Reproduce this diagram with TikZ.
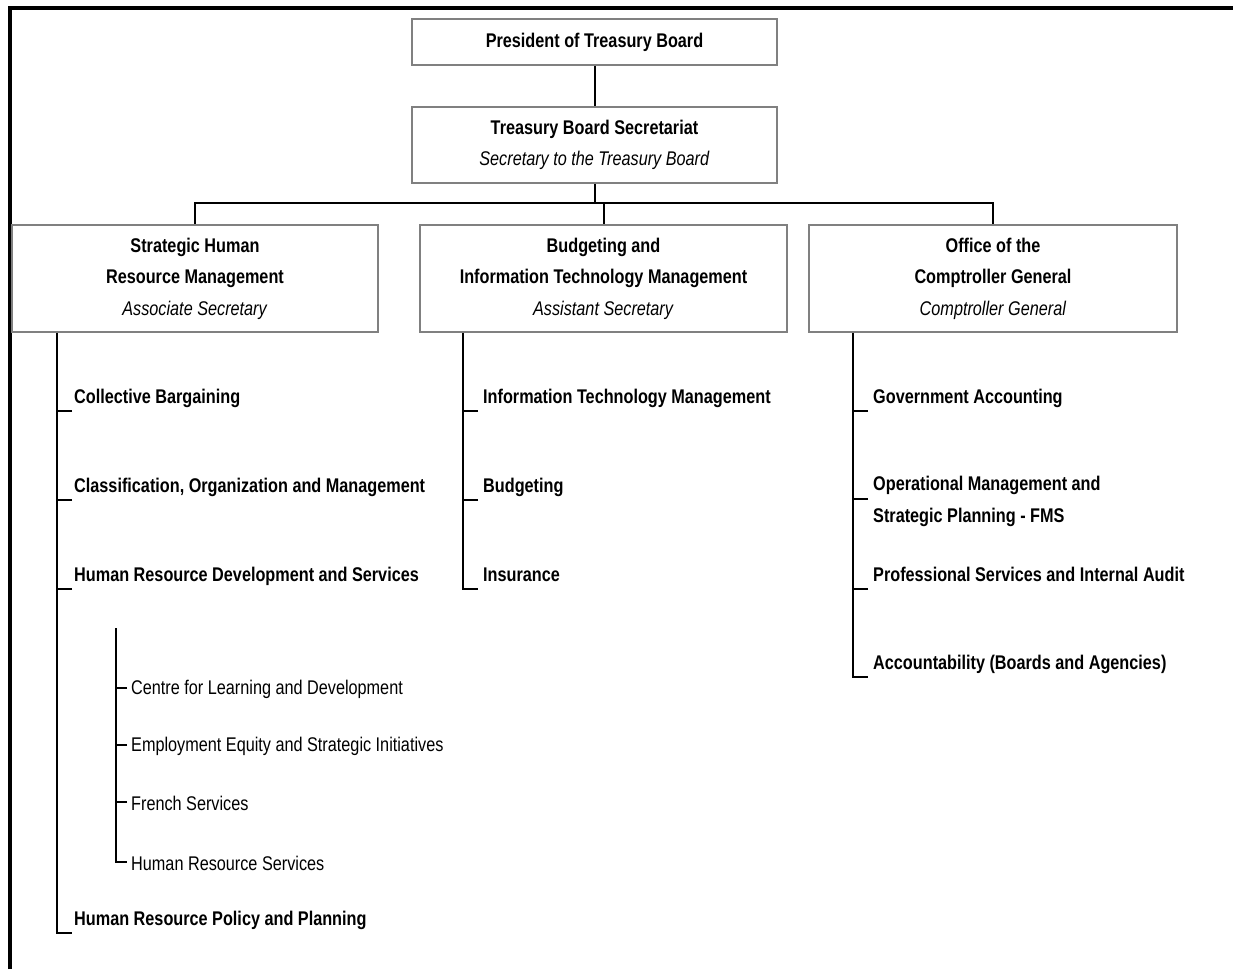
\documentclass[tikz,border=0pt]{standalone}
\usepackage{fontspec}
\setmainfont{Liberation Sans}[FakeStretch=0.82]

\begin{document}
\begin{tikzpicture}[x=1pt,y=-1pt,
  box/.style={draw=black!50, line width=1.8pt, align=center, inner sep=0pt,
    font=\fontsize{19.8}{31.5}\selectfont},
  item/.style={inner sep=0pt, align=left, font=\fontsize{19.8}{32}\selectfont\bfseries},
  sub/.style={inner sep=0pt, font=\fontsize{19.8}{24}\selectfont},
  link/.style={line width=2pt}]
\useasboundingbox (0,0) rectangle (1233,969);
\draw[line width=3.5pt] (10,969) -- (10,8) -- (1233,8);

% top of the chart
\node[box, minimum width=365pt, minimum height=46pt] (pres) at (594.5,42) {\textbf{President of Treasury Board}};
\node[box, minimum width=365pt, minimum height=76pt] (tbs) at (594.5,145)
  {\textbf{Treasury Board Secretariat}\\\textit{Secretary to the Treasury Board}};
\node[box, minimum width=366pt, minimum height=107pt] (shrm) at (195,278.5)
  {\textbf{Strategic Human}\\\textbf{Resource Management}\\\textit{Associate Secretary}};
\node[box, minimum width=367pt, minimum height=107pt] (bitm) at (603.5,278.5)
  {\textbf{Budgeting and}\\\textbf{Information Technology Management}\\\textit{Assistant Secretary}};
\node[box, minimum width=368pt, minimum height=107pt] (ocg) at (993,278.5)
  {\textbf{Office of the}\\\textbf{Comptroller General}\\\textit{Comptroller General}};

\coordinate (bus) at (594.5,203);
\draw[link] (pres) -- (tbs);
\draw[link] (tbs) -- (bus);
\draw[link] (bus) -| (shrm.north);
\draw[link] (bus) -| (bitm.north);
\draw[link] (bus) -| (ocg.north);

% human resources
\coordinate (hrx) at ([xshift=46pt]shrm.south west);
\foreach \y/\nm/\txt in {411/cb/Collective Bargaining, 500/com/{Classification, Organization and Management},
  589/hrd/Human Resource Development and Services, 933/hpp/Human Resource Policy and Planning} {
 \coordinate (\nm-t) at (72,\y);
 \node[item, anchor=base west] (\nm) at (74,\y-8) {\txt};
}
\draw[link] (hrx) |- (hpp-t);
\foreach \nm in {cb,com,hrd}
 \draw[link] (\nm-t) -- (hrx |- \nm-t);

\coordinate (hrdx) at (116,628);
\foreach \y/\nm/\txt in {688/cld/Centre for Learning and Development, 745/ee/Employment Equity and Strategic Initiatives,
  802/fs/French Services, 862/hrs/Human Resource Services} {
 \coordinate (\nm-t) at (127,\y);
 \node[sub, anchor=west] (\nm) at (131,\y+1.5) {\txt};
}
\draw[link] (hrdx) |- (hrs-t);
\foreach \nm in {cld,ee,fs}
 \draw[link] (\nm-t) -- (hrdx |- \nm-t);

% budgeting and IT
\coordinate (bitx) at ([xshift=44pt]bitm.south west);
\foreach \y/\nm/\txt in {411/itm/Information Technology Management, 500/bud/Budgeting, 589/ins/Insurance} {
 \coordinate (\nm-t) at (478,\y);
 \node[item, anchor=base west] (\nm) at (483,\y-8) {\txt};
}
\draw[link] (bitx) |- (ins-t);
\foreach \nm in {itm,bud}
 \draw[link] (\nm-t) -- (bitx |- \nm-t);

% comptroller general
\coordinate (ocgx) at ([xshift=45pt]ocg.south west);
\foreach \y/\nm/\txt in {411/ga/Government Accounting, 589/psia/Professional Services and Internal Audit,
  677/acc/{Accountability (Boards and Agencies)}} {
 \coordinate (\nm-t) at (868,\y);
 \node[item, anchor=base west] (\nm) at (873,\y-8) {\txt};
}
\coordinate (oms-t) at (868,499);
\node[item, anchor=west] (oms) at (873,501) {Operational Management and\\Strategic Planning - FMS};
\draw[link] (ocgx) |- (acc-t);
\foreach \nm in {ga,oms,psia}
 \draw[link] (\nm-t) -- (ocgx |- \nm-t);
\end{tikzpicture}
\end{document}
